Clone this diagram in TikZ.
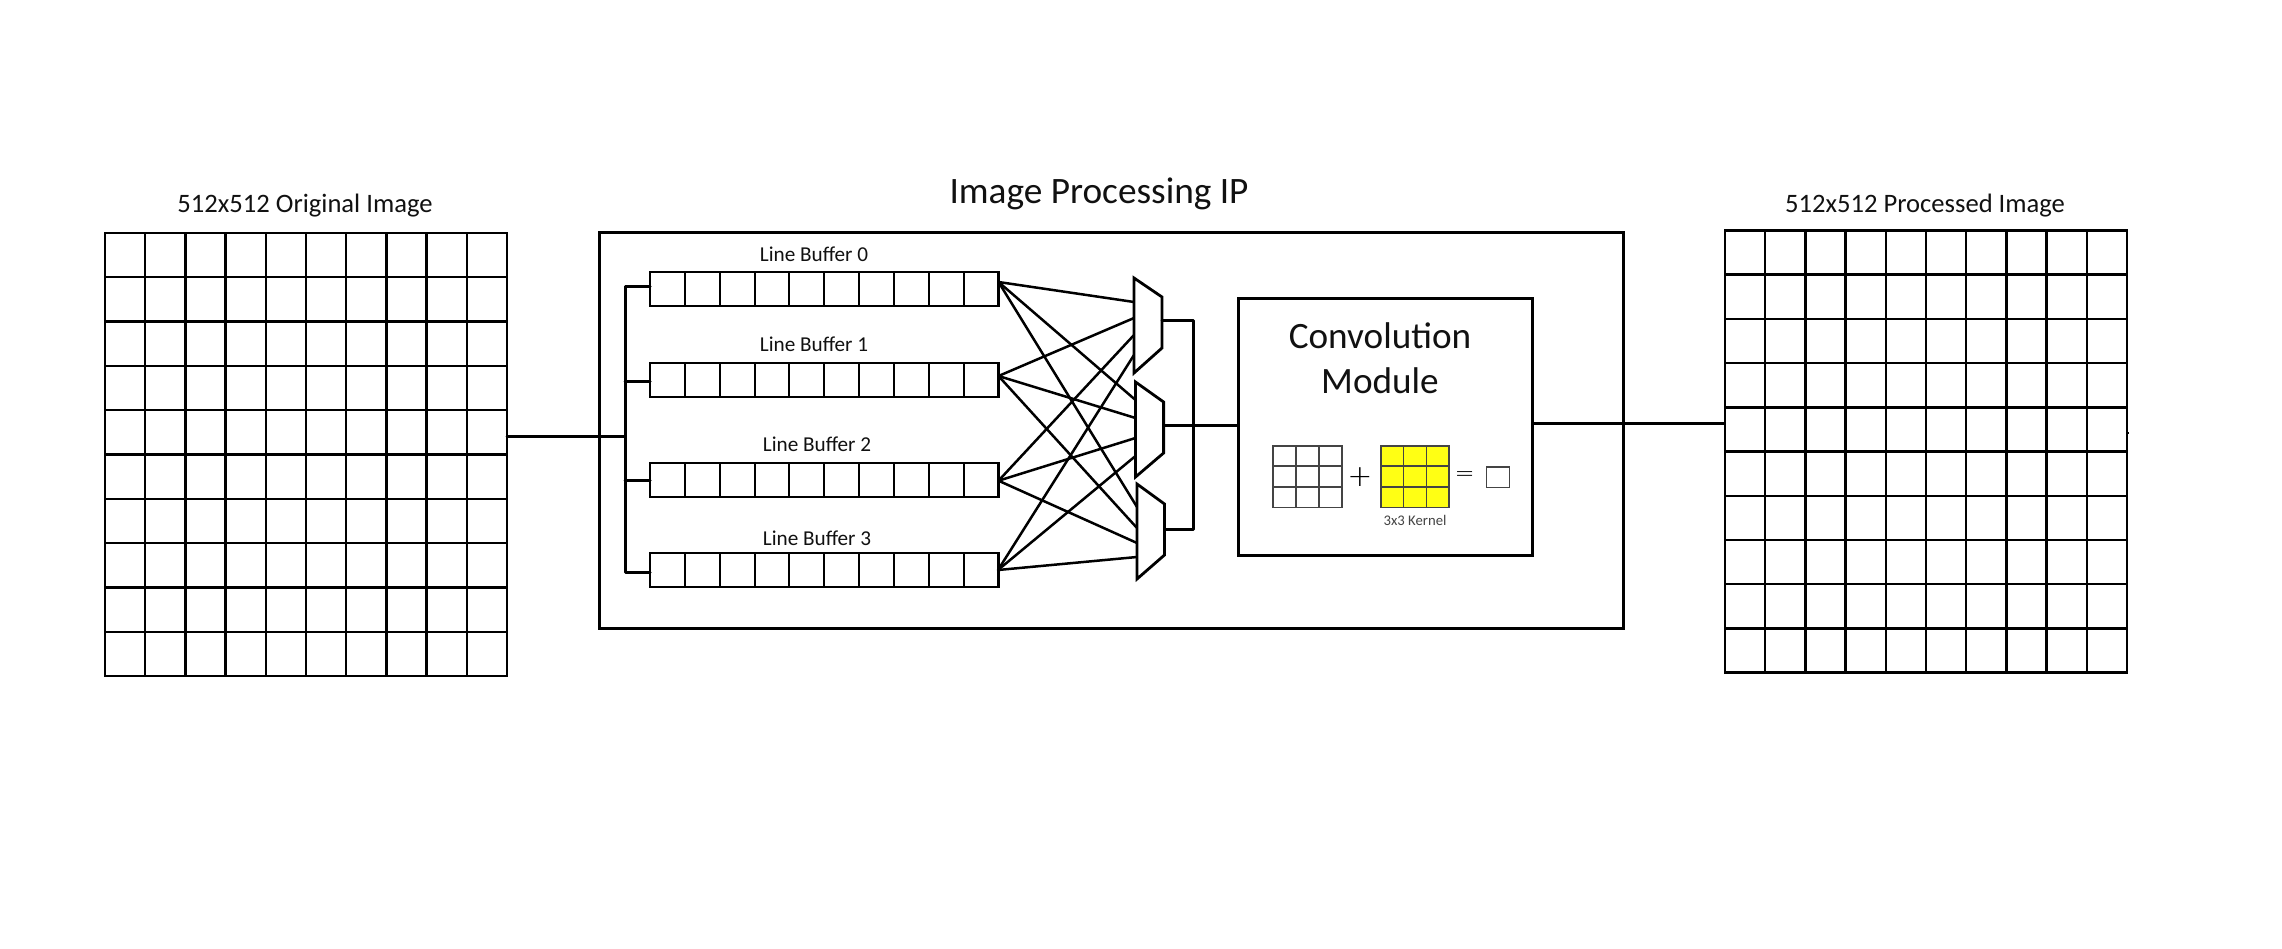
\documentclass[tikz,border=0pt]{standalone}
\usepackage{fontspec}
\setmainfont{Carlito}
\newfontfamily\thinsym{DejaVu Sans ExtraLight}
\definecolor{inkc}{HTML}{111111}
\definecolor{kernelyellow}{HTML}{FFFF14}
\definecolor{thingrid}{HTML}{444444}
\tikzset{
  label text/.style={inner sep=0pt,anchor=base,text=inkc},
  heavy/.style={draw=black,line width=3pt},
  wire/.style={draw=black,line width=3pt,line cap=round,line join=round},
  mesh/.style={draw=black,line width=2.5pt,line cap=round},
  gridline/.style={draw=black,line width=2.4pt},
  bufline/.style={draw=black,line width=2.1pt},
  smallgrid/.style={draw=thingrid,line width=1.6pt},
  muxshape/.style={draw=black,line width=2.8pt,line join=miter,fill=white},
}
\begin{document}
\begin{tikzpicture}[x=1pt,y=-1pt]
\useasboundingbox (0,0) rectangle (2282,949);
\fill[white] (0,0) rectangle (2282,949);

% titles
\node[label text,font=\fontsize{26.6}{26.6}\selectfont] (t1) at (305,213) {512x512 Original Image};
\node[label text,font=\fontsize{26.6}{26.6}\selectfont] (t2) at (1925,213) {512x512 Processed Image};
\node[label text,font=\fontsize{37.3}{37.3}\selectfont] (t3) at (1099,203.5) {Image Processing IP};

% left and right images
\node[draw=black,line width=2.4pt,minimum width=402pt,minimum height=443pt,inner sep=0pt] (orig) at (306,454.5) {};
\foreach \i in {1,...,9} {
  \draw[gridline] ({105+\i*40.2},233) -- ({105+\i*40.2},676);
  \draw[gridline] (105,{233+\i*44.3}) -- (507,{233+\i*44.3});
}
\node[draw=black,line width=2.4pt,minimum width=402pt,minimum height=442pt,inner sep=0pt] (proc) at (1926,451.5) {};
\foreach \i in {1,...,9} {
  \draw[gridline] ({1725+\i*40.2},230.5) -- ({1725+\i*40.2},672.5);
  \draw[gridline] (1725,{230.5+\i*44.2}) -- (2127,{230.5+\i*44.2});
}
\draw[line width=2pt] (2127,433) -- (2129,433);

% IP box
\node[heavy,minimum width=1024.5pt,minimum height=396pt,inner sep=0pt] (ip) at (1111.25,430.3) {};

% line buffers
\foreach \n/\y in {0/288.7,1/379.7,2/480,3/569.7} {
  \node[bufline,minimum width=348.5pt,minimum height=34pt,inner sep=0pt] (b\n) at (824.25,\y) {};
  \foreach \i in {1,...,9}
    \draw[bufline] ({650+\i*34.85},{\y-17}) -- ({650+\i*34.85},{\y+17});
}
\node[label text,font=\fontsize{21.2}{21.2}\selectfont] (l0) at (814,262) {Line Buffer 0};
\node[label text,font=\fontsize{21.2}{21.2}\selectfont] (l1) at (814,351) {Line Buffer 1};
\node[label text,font=\fontsize{21.2}{21.2}\selectfont] (l2) at (817,451) {Line Buffer 2};
\node[label text,font=\fontsize{21.2}{21.2}\selectfont] (l3) at (817,545.5) {Line Buffer 3};

% input bus
\coordinate (busTop) at (625,286.7);
\coordinate (busBot) at (625,572.7);
\coordinate (busMid) at (625,436.5);
\coordinate (bus1) at (625,381);
\coordinate (bus2) at (625,480);
\coordinate (in0) at (507,436.5);
\draw[wire] (in0) -- (busMid);
\draw[wire] (650,286.7) -- (busTop) -- (busBot) -- (650,572.7);
\draw[wire] (bus1) -- (650,381);
\draw[wire] (bus2) -- (650,480);

% mesh sources
\coordinate (s0) at (998.5,282);
\coordinate (s1) at (998.5,376);
\coordinate (s2) at (998.5,480.7);
\coordinate (s3) at (998,570);

% mux inputs
\coordinate (m0i0) at (1134,302);
\coordinate (m0i1) at (1134,318);
\coordinate (m0i2) at (1134,335);
\coordinate (m0i3) at (1134,355);
\coordinate (m1i0) at (1135.5,400);
\coordinate (m1i1) at (1135.5,418);
\coordinate (m1i2) at (1135.5,438);
\coordinate (m1i3) at (1135.5,456);
\coordinate (m2i0) at (1137,507);
\coordinate (m2i1) at (1137,528);
\coordinate (m2i2) at (1137,543);
\coordinate (m2i3) at (1137,557);
\foreach \m in {0,1,2}
  \foreach \b in {0,1,2,3}
    \draw[mesh] (s\b) -- (m\m i\b);

% muxes
\draw[muxshape] (1134,278) -- (1162,297) -- (1162,348) -- (1134,373) -- cycle;
\draw[muxshape] (1135.5,382) -- (1163.6,402) -- (1163.6,453) -- (1135.5,477) -- cycle;
\draw[muxshape] (1137,484) -- (1164.5,504) -- (1164.5,555) -- (1137,579) -- cycle;
\coordinate (m0o) at (1162,321);
\coordinate (m1o) at (1163.6,425);
\coordinate (m2o) at (1164.5,529);

% convolution module
\node[heavy,minimum width=294.5pt,minimum height=257pt,inner sep=0pt] (conv) at (1385.25,426.8) {};
\node[label text,font=\fontsize{37.2}{37.2}\selectfont] (c1) at (1380,348.5) {Convolution};
\node[label text,font=\fontsize{37.2}{37.2}\selectfont] (c2) at (1380,393) {Module};

% mux outputs
\draw[wire] (m0o) -- (1193.5,321) -- (1193.5,529) -- (m2o);
\draw[wire] (m1o) -- (conv.west |- m1o);
% output
\coordinate (out) at (conv.east |- 0,423.3);
\draw[wire] (out) -- (proc.west |- out);

% small grids
\node[smallgrid,minimum width=68.6pt,minimum height=61.6pt,inner sep=0pt] (g1) at (1307.5,476.5) {};
\node[smallgrid,fill=kernelyellow,minimum width=68pt,minimum height=61.6pt,inner sep=0pt] (g2) at (1415,476.5) {};
\foreach \i in {1,2} {
  \draw[smallgrid] ({1273.2+\i*22.87},445.7) -- ({1273.2+\i*22.87},507.3);
  \draw[smallgrid] (1273.2,{445.7+\i*20.53}) -- (1341.8,{445.7+\i*20.53});
  \draw[smallgrid] ({1381+\i*22.67},445.7) -- ({1381+\i*22.67},507.3);
  \draw[smallgrid] (1381,{445.7+\i*20.53}) -- (1449,{445.7+\i*20.53});
}
\node[smallgrid,minimum width=23.2pt,minimum height=20.6pt,inner sep=0pt] (g3) at (1498,477) {};
\node[inner sep=0pt,text=black,font=\thinsym\fontsize{30}{30}\selectfont] (plus) at (1360,477) {+};
\node[inner sep=0pt,text=black,font=\thinsym\fontsize{24}{24}\selectfont] (eq) at (1464.6,477) {=};
\node[label text,text=thingrid,font=\fontsize{14.7}{14.7}\selectfont] (k) at (1415,525.5) {3x3 Kernel};
\end{tikzpicture}
\end{document}
